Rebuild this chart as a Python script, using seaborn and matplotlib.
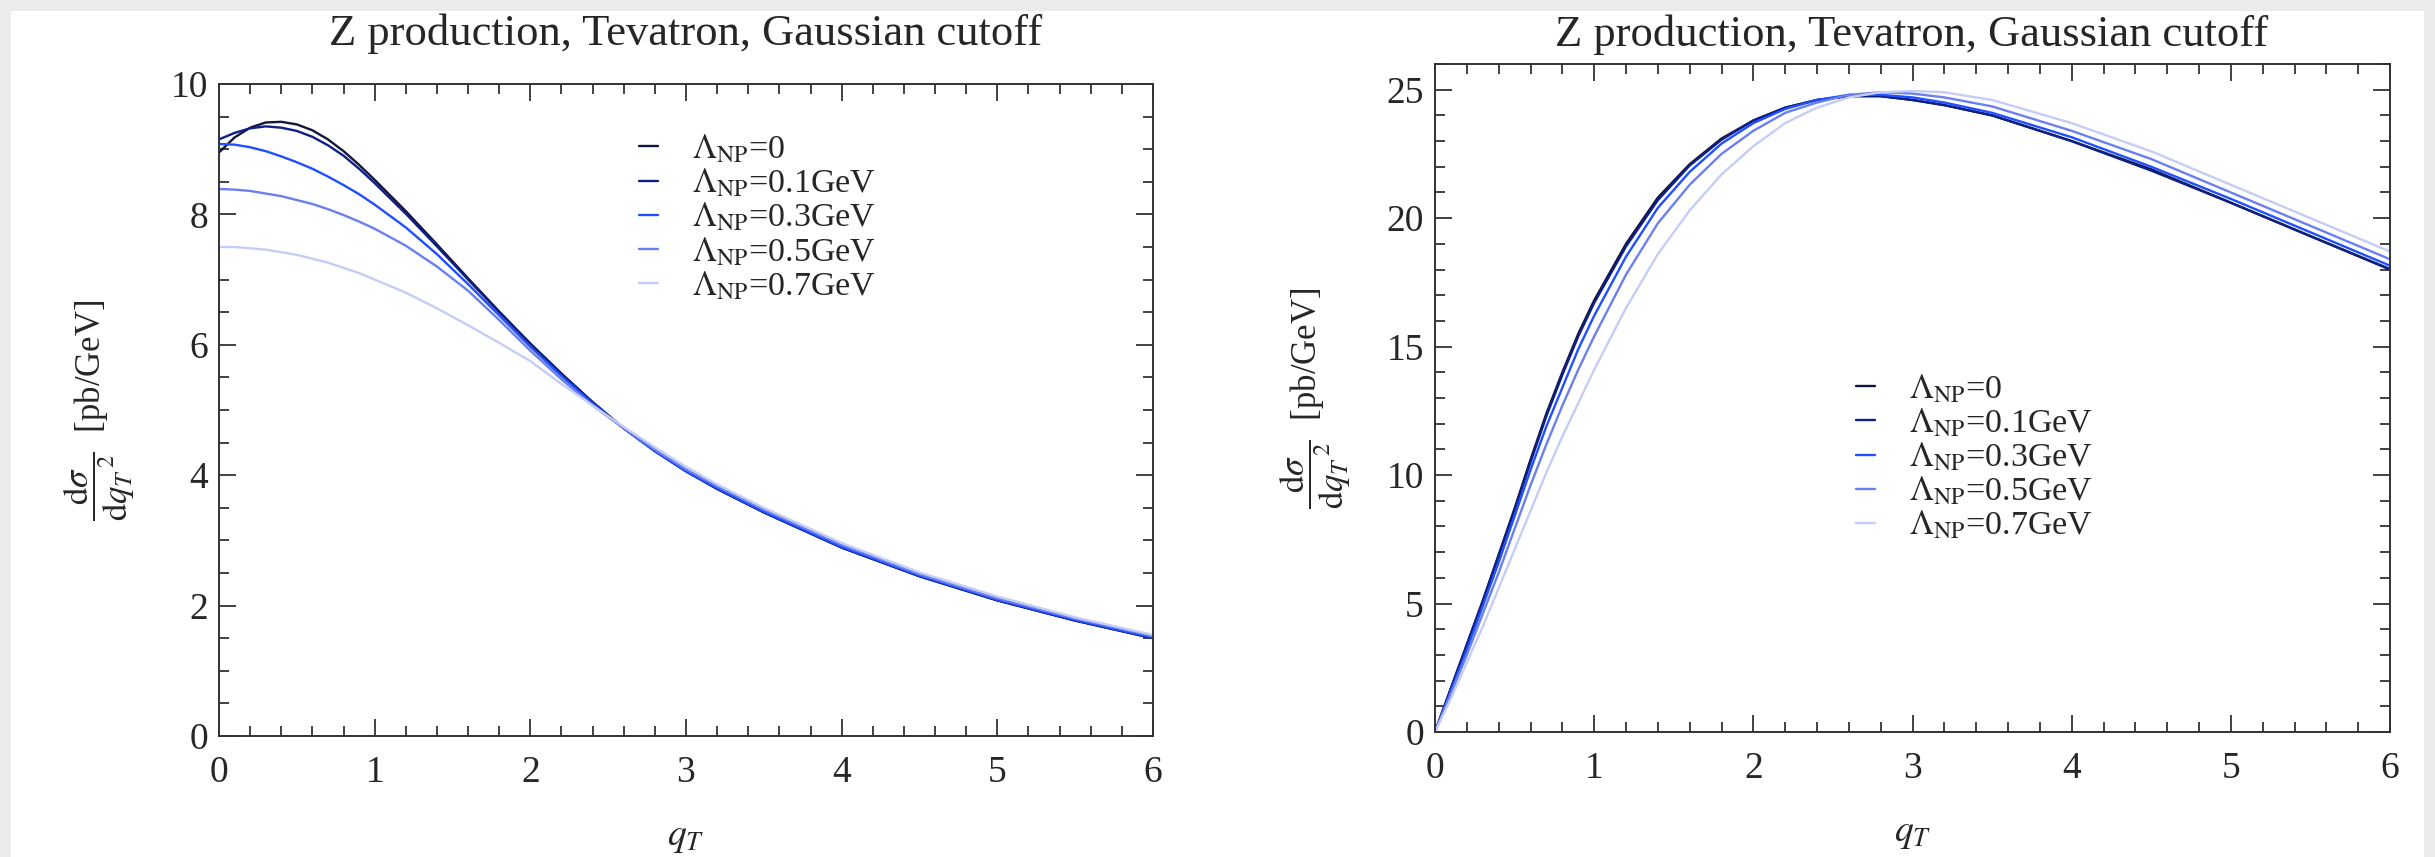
import numpy as np
import pandas as pd
import matplotlib
matplotlib.use("Agg")
import matplotlib.pyplot as plt
import matplotlib.patches as mpatches
from matplotlib.ticker import MultipleLocator
import seaborn as sns

# ---------------- data ----------------
qt = [0, .1, .2, .3, .4, .5, .6, .7, .8, .9, 1.0, 1.2, 1.4, 1.6, 1.8, 2.0, 2.2,
      2.4, 2.6, 2.8, 3.0, 3.2, 3.5, 4.0, 4.5, 5.0, 5.5, 6.0]

labels = [r"$\Lambda_{\rm NP}$=0", r"$\Lambda_{\rm NP}$=0.1GeV", r"$\Lambda_{\rm NP}$=0.3GeV",
          r"$\Lambda_{\rm NP}$=0.5GeV", r"$\Lambda_{\rm NP}$=0.7GeV"]

# left panel: dsigma/dqT^2
left_0 = [8.95, 9.18, 9.33, 9.41, 9.42, 9.38, 9.29, 9.15, 8.97, 8.76, 8.53, 8.05, 7.54, 7.02,
          6.51, 6.02, 5.56, 5.12, 4.72, 4.37, 4.06, 3.79, 3.43, 2.89, 2.45, 2.08, 1.77, 1.50]
left_1 = [9.15, 9.25, 9.32, 9.35, 9.33, 9.28, 9.19, 9.06, 8.9, 8.7, 8.48, 8.01, 7.51, 7.0,
          6.5, 6.01, 5.55, 5.12, 4.72, 4.37, 4.06, 3.79, 3.43, 2.89, 2.45, 2.08, 1.77, 1.50]
left_3 = [9.08, 9.07, 9.03, 8.97, 8.89, 8.8, 8.7, 8.58, 8.45, 8.31, 8.15, 7.8, 7.39, 6.93,
          6.45, 5.97, 5.52, 5.1, 4.72, 4.37, 4.06, 3.8, 3.44, 2.9, 2.46, 2.09, 1.78, 1.51]
left_5 = [8.39, 8.38, 8.36, 8.32, 8.28, 8.22, 8.16, 8.08, 7.99, 7.89, 7.78, 7.52, 7.2, 6.83,
          6.38, 5.91, 5.47, 5.07, 4.72, 4.39, 4.09, 3.83, 3.47, 2.93, 2.48, 2.11, 1.8, 1.53]
left_7 = [7.5, 7.5, 7.48, 7.46, 7.42, 7.38, 7.32, 7.26, 7.18, 7.1, 7.0, 6.8, 6.56, 6.3,
          6.03, 5.75, 5.4, 5.07, 4.74, 4.43, 4.13, 3.86, 3.5, 2.96, 2.51, 2.14, 1.82, 1.55]

# right panel
right_0 = [0, 1.7, 3.4, 5.1, 6.9, 8.7, 10.6, 12.4, 14.0, 15.5, 16.8, 19.0, 20.8, 22.1, 23.1,
           23.8, 24.3, 24.6, 24.75, 24.75, 24.6, 24.4, 24.0, 23.0, 21.9, 20.6, 19.3, 18.0]
right_1 = [0, 1.7, 3.4, 5.1, 6.85, 8.65, 10.5, 12.3, 13.9, 15.4, 16.7, 18.9, 20.7, 22.05, 23.05,
           23.8, 24.3, 24.6, 24.75, 24.75, 24.6, 24.4, 24.0, 23.0, 21.85, 20.6, 19.3, 18.02]
right_3 = [0, 1.6, 3.2, 4.9, 6.6, 8.4, 10.2, 11.9, 13.4, 14.9, 16.2, 18.5, 20.4, 21.8, 22.9,
           23.7, 24.25, 24.6, 24.8, 24.8, 24.7, 24.5, 24.1, 23.15, 22.0, 20.75, 19.45, 18.15]
right_5 = [0, 1.5, 3.0, 4.6, 6.2, 7.9, 9.6, 11.2, 12.7, 14.1, 15.4, 17.8, 19.8, 21.3, 22.5,
           23.4, 24.1, 24.5, 24.8, 24.9, 24.85, 24.7, 24.35, 23.4, 22.3, 21.0, 19.7, 18.4]
right_7 = [0, 1.3, 2.7, 4.1, 5.6, 7.1, 8.6, 10.1, 11.5, 12.8, 14.1, 16.5, 18.6, 20.3, 21.7,
           22.8, 23.7, 24.3, 24.7, 24.9, 24.95, 24.9, 24.6, 23.7, 22.6, 21.3, 20.0, 18.7]

title = "Z production, Tevatron, Gaussian cutoff"
colors = ["#14143c", "#0c2088", "#1f4fff", "#6a7ff0", "#c5cdf7"]

# ---------------- style ----------------
sns.set_style("ticks")
plt.rcParams["font.family"] = ["Liberation Serif", "DejaVu Serif"]
plt.rcParams["mathtext.fontset"] = "stix"

W, H = 2435, 857
fig = plt.figure(figsize=(W / 100, H / 100), dpi=100, facecolor="#ebebeb")
# white sheet (behind everything)
bg = fig.add_axes([0, 0, 1, 1], zorder=-10)
bg.axis("off")
bg.add_patch(mpatches.Rectangle((11 / W, 0), (W - 22) / W, (H - 11) / H,
                                transform=bg.transAxes, facecolor="white",
                                edgecolor="none"))

axL = fig.add_axes([219 / W, 1 - 736 / H, (1153 - 219) / W, (736 - 84) / H])
axR = fig.add_axes([1435 / W, 1 - 732 / H, (2390 - 1435) / W, (732 - 64) / H])


def make_df(series):
    rows = []
    for lab, ys in zip(labels, series):
        for x, y in zip(qt, ys):
            rows.append((x, y, lab))
    return pd.DataFrame(rows, columns=["qT", "val", "Lambda"])


dfL = make_df([left_0, left_1, left_3, left_5, left_7])
dfR = make_df([right_0, right_1, right_3, right_5, right_7])
pal = dict(zip(labels, colors))

ylab = r"$\dfrac{\mathrm{d}\sigma}{\mathrm{d}{q_T}^{\,2}}$  [pb/GeV]"

for ax, df in ((axL, dfL), (axR, dfR)):
    sns.lineplot(data=df, x="qT", y="val", hue="Lambda", hue_order=labels,
                 palette=pal, ax=ax, legend=False, linewidth=1.7, sort=False)
    ax.set_facecolor("none")
    ax.set_xlim(0, 6)
    ax.xaxis.set_major_locator(MultipleLocator(1))
    ax.xaxis.set_minor_locator(MultipleLocator(0.2))
    ax.tick_params(which="both", direction="in", top=True, right=True,
                   width=1.3, color="#333333", labelsize=27)
    ax.tick_params(which="major", length=12)
    ax.tick_params(which="minor", length=7)
    ax.tick_params(axis="x", which="major", pad=14)
    ax.tick_params(axis="y", which="major", pad=8)
    for s in ax.spines.values():
        s.set_linewidth(1.4)
        s.set_color("#333333")
    ax.set_xlabel(r"$q_T$", fontsize=27, labelpad=22)
    ax.set_ylabel(ylab, fontsize=25, labelpad=24)

axL.set_ylim(0, 10)
axL.yaxis.set_major_locator(MultipleLocator(2))
axL.yaxis.set_minor_locator(MultipleLocator(0.5))
axR.set_ylim(0, 26)
axR.yaxis.set_major_locator(MultipleLocator(5))
axR.yaxis.set_minor_locator(MultipleLocator(1))

for ax, anchor in ((axL, (0.4497, 0.925)), (axR, (0.4408, 0.538))):
    ax.legend(ax.get_lines()[:5], labels, loc="upper left", bbox_to_anchor=anchor,
              frameon=False, fontsize=24.5, handlelength=0.55, handletextpad=1.0,
              labelspacing=0.05, borderpad=0, borderaxespad=0)

fig.text(686 / W, 1 - 34 / H, title, ha="center", va="center", fontsize=32)
fig.text(1912 / W, 1 - 35 / H, title, ha="center", va="center", fontsize=32)

fig.savefig("out.png", dpi=100, facecolor=fig.get_facecolor())
